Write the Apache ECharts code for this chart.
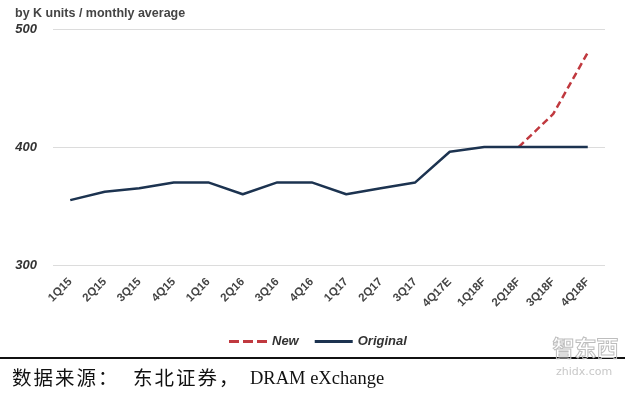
<!DOCTYPE html>
<html>
<head>
<meta charset="utf-8">
<script src="https://cdn.jsdelivr.net/npm/echarts@6/dist/echarts.min.js"></script>
<style>html,body{margin:0;padding:0;background:#fff;}#c{width:640px;height:394px;}</style>
</head>
<body>
<div id="c"></div>
<script>
const categories = ['1Q15','2Q15','3Q15','4Q15','1Q16','2Q16','3Q16','4Q16','1Q17','2Q17','3Q17','4Q17E','1Q18F','2Q18F','3Q18F','4Q18F'];
const originalValues = [355,362,365,370,370,360,370,370,360,365,370,396,400,400,400,400];
const newValues = [null,null,null,null,null,null,null,null,null,null,null,null,null,400,428,480];
const yTicks = { min: 300, max: 500, interval: 100 };
const titleText = 'by K units / monthly average';
const sourceParts = ['数据来源：', '东北证券，', 'DRAM eXchange'];

function cjkRun(str, x0, step) {
  return Array.from(str).map((ch, i) => ({
    type: 'text', left: x0 + i * step, top: 368,
    style: { text: ch, font: '19.5px "Noto Sans CJK SC"', fill: '#111' }
  }));
}

const chart = echarts.init(document.getElementById('c'));
chart.setOption({
  animation: false,
  backgroundColor: '#fff',
  grid: { left: 53, right: 35, top: 29, bottom: 129 },
  legend: {
    left: 224, top: 330,
    itemWidth: 38, itemHeight: 3, itemGap: 16,
    textStyle: { fontFamily: 'Liberation Sans', fontSize: 13, fontWeight: 'bold', fontStyle: 'italic', color: '#333' },
    data: [
      { name: 'New', icon: 'path://M0,0h10v3h-10z M14,0h10v3h-10z M28,0h10v3h-10z' },
      { name: 'Original', icon: 'rect' }
    ]
  },
  xAxis: {
    type: 'category',
    data: categories,
    boundaryGap: true,
    axisLine: { show: false },
    axisTick: { show: false },
    axisLabel: { rotate: 45, margin: 15, interval: 0, fontFamily: 'Liberation Sans', fontSize: 11.5, fontWeight: 'bold', color: '#444' }
  },
  yAxis: {
    type: 'value',
    min: yTicks.min, max: yTicks.max, interval: yTicks.interval,
    axisLine: { show: false },
    axisTick: { show: false },
    splitLine: { lineStyle: { color: '#dcdcdc', width: 1 } },
    axisLabel: { margin: 16, fontFamily: 'Liberation Sans', fontSize: 13, fontWeight: 'bold', fontStyle: 'italic', color: '#333' }
  },
  series: [
    {
      name: 'New', type: 'line', data: newValues, symbol: 'none', z: 2,
      lineStyle: { color: '#c0393f', width: 2.5, type: [7, 4] },
      itemStyle: { color: '#c0393f' }
    },
    {
      name: 'Original', type: 'line', data: originalValues, symbol: 'none', z: 3,
      lineStyle: { color: '#1c3350', width: 2.5 },
      itemStyle: { color: '#1c3350' }
    }
  ],
  graphic: [
    { type: 'text', left: 15, top: 7, style: { text: titleText, font: 'bold 12.5px "Liberation Sans"', fill: '#444' } },
    { type: 'rect', shape: { x: 0, y: 357, width: 625, height: 2 }, style: { fill: '#111' } },
    ...cjkRun(sourceParts[0], 12, 21.5),
    ...cjkRun(sourceParts[1], 133, 21.5),
    { type: 'text', left: 250, top: 370, style: { text: sourceParts[2], font: '18.5px "Liberation Serif"', fill: '#111' } },
    { type: 'text', left: 552, top: 336, style: { text: '智东西', font: 'bold 22px "Noto Sans CJK SC"', fill: 'rgba(255,255,255,0)', stroke: '#bdbdbd', lineWidth: 1 }, z: 10 },
    { type: 'text', left: 556, top: 367, style: { text: 'zhidx.com', font: '11px "DejaVu Sans"', fill: '#c8c8c8', letterSpacing: 2 }, z: 10 }
  ]
});
</script>
</body>
</html>
